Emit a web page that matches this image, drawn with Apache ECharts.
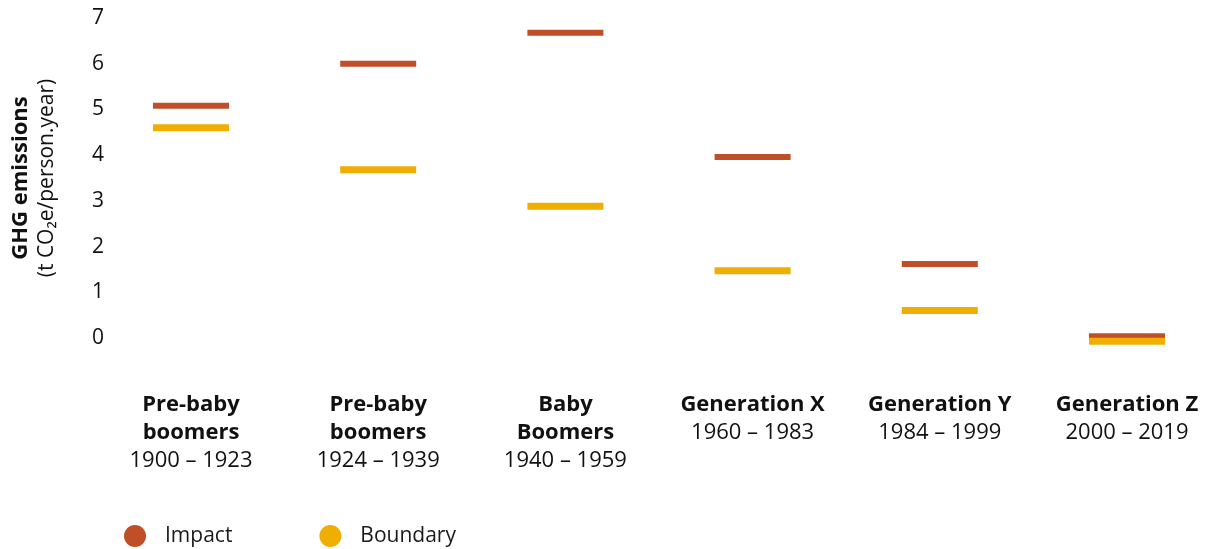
<!DOCTYPE html>
<html>
<head>
<meta charset="utf-8">
<script src="https://cdn.jsdelivr.net/npm/echarts@6/dist/echarts.min.js"></script>
<style>
  html, body { margin: 0; padding: 0; background: #fff; }
  #chart { width: 1213px; height: 549px; }
</style>
</head>
<body>
<div id="chart"></div>
<script>
// generations (name, birth years)
const generations = ['Pre-baby\nboomers', 'Pre-baby\nboomers', 'Baby\nBoomers', 'Generation X', 'Generation Y', 'Generation Z'];
const years = ['1900 – 1923', '1924 – 1939', '1940 – 1959', '1960 – 1983', '1984 – 1999', '2000 – 2019'];
// t CO2e per person per year
const impact = [5.08, 6.0, 6.68, 3.96, 1.62, 0.04];
const boundary = [4.6, 3.68, 2.88, 1.47, 0.6, -0.07];
const yTicks = [0, 1, 2, 3, 4, 5, 6, 7];

const FONT = '"Open Sans", Lato, sans-serif';
const cats = generations.map((g, i) => i);

const chart = echarts.init(document.getElementById('chart'));

function rows(vals) {
  return vals.map((v, i) => [i, v]);
}

chart.setOption({
  animation: false,
  textStyle: { fontFamily: FONT },
  grid: { left: 191, right: 86, top: 18, bottom: 211 },
  legend: {
    left: 124, top: 525, padding: 0,
    icon: 'circle', itemWidth: 22, itemHeight: 22, itemGap: 87,
    textStyle: { fontSize: 21, color: '#1a1a1a', padding: [0, 0, 0, 14], fontFamily: FONT },
    data: ['Impact', 'Boundary'],
  },
  xAxis: {
    type: 'category',
    data: cats,
    boundaryGap: false,
    axisLine: { show: false },
    axisTick: { show: false },
    splitLine: { show: false },
    axisLabel: {
      margin: 53,
      interval: 0,
      formatter: (v, i) => generations[i].split('\n').map((s) => '{b|' + s + '}').join('\n') + '\n{n|' + years[i] + '}',
      rich: {
        b: { fontSize: 22, fontWeight: 'bold', color: '#111', lineHeight: 28, fontFamily: FONT },
        n: { fontSize: 22, color: '#111', lineHeight: 28, fontFamily: FONT },
      },
    },
  },
  yAxis: {
    type: 'value',
    min: yTicks[0], max: yTicks[yTicks.length - 1], interval: 1,
    axisLine: { show: false },
    axisTick: { show: false },
    splitLine: { show: false },
    axisLabel: { margin: 87, fontSize: 21, color: '#111', fontFamily: FONT },
    name: '{t|GHG emissions}\n{s|(t CO₂e/person.year)}',
    nameLocation: 'middle',
    nameRotate: 90,
    nameGap: 130,
    nameTextStyle: {
      rich: {
        t: { fontSize: 22, fontWeight: 'bold', color: '#111', lineHeight: 27, fontFamily: FONT },
        s: { fontSize: 21, color: '#111', lineHeight: 27, fontFamily: FONT },
      },
    },
  },
  series: [
    {
      name: 'Impact', type: 'scatter', clip: false,
      symbol: 'rect', symbolSize: [76, 6],
      itemStyle: { color: '#c04e28', opacity: 1 },
      data: rows(impact),
    },
    {
      name: 'Boundary', type: 'scatter', clip: false,
      symbol: 'rect', symbolSize: [76, 7],
      itemStyle: { color: '#efae00', opacity: 1 },
      data: rows(boundary),
    },
  ],
});
</script>
</body>
</html>
